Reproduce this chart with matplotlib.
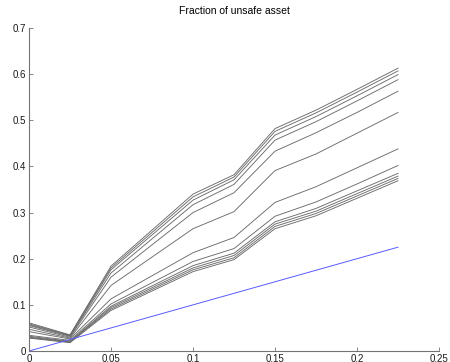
import matplotlib
matplotlib.use("Agg")
import matplotlib.pyplot as plt

plt.rcParams['font.family'] = ['Liberation Sans', 'DejaVu Sans']

# grid of risk levels
x = [0, 0.025, 0.05, 0.1, 0.125, 0.15, 0.175, 0.2, 0.225]

# fraction of unsafe asset, one series per parameter value
series = [
    [0.061, 0.035, 0.184, 0.340, 0.382, 0.482, 0.522, 0.567, 0.613],
    [0.059, 0.034, 0.180, 0.334, 0.377, 0.476, 0.516, 0.561, 0.607],
    [0.057, 0.033, 0.176, 0.327, 0.371, 0.468, 0.508, 0.553, 0.599],
    [0.055, 0.032, 0.169, 0.317, 0.361, 0.457, 0.497, 0.542, 0.588],
    [0.052, 0.030, 0.160, 0.300, 0.343, 0.433, 0.473, 0.517, 0.563],
    [0.047, 0.028, 0.142, 0.265, 0.302, 0.391, 0.427, 0.472, 0.517],
    [0.042, 0.026, 0.113, 0.213, 0.246, 0.322, 0.356, 0.397, 0.438],
    [0.034, 0.023, 0.102, 0.194, 0.222, 0.292, 0.323, 0.362, 0.402],
    [0.032, 0.021, 0.097, 0.185, 0.212, 0.280, 0.309, 0.347, 0.385],
    [0.030, 0.020, 0.094, 0.180, 0.207, 0.275, 0.303, 0.341, 0.379],
    [0.029, 0.019, 0.091, 0.176, 0.202, 0.270, 0.298, 0.336, 0.374],
    [0.028, 0.018, 0.088, 0.172, 0.198, 0.265, 0.293, 0.331, 0.369],
]

# safe benchmark: fraction equal to the risk level
bench_x = [0, 0.225]
bench_y = [0, 0.225]

xticks = [0, 0.05, 0.1, 0.15, 0.2, 0.25]
xticklabels = ["0", "0.05", "0.1", "0.15", "0.2", "0.25"]
yticks = [0, 0.1, 0.2, 0.3, 0.4, 0.5, 0.6, 0.7]
yticklabels = ["0", "0.1", "0.2", "0.3", "0.4", "0.5", "0.6", "0.7"]

fig = plt.figure(figsize=(4.5, 3.62), dpi=100)
ax = fig.add_axes([29 / 450, 1 - 351 / 362, 410 / 450, 323 / 362])

for s in series:
    ax.plot(x, s, color='0.42', lw=0.65)
ax.plot(bench_x, bench_y, color='#5a5aff', lw=0.7)

ax.set_xlim(0, 0.25)
ax.set_ylim(0, 0.7)
ax.set_xticks(xticks)
ax.set_xticklabels(xticklabels)
ax.set_yticks(yticks)
ax.set_yticklabels(yticklabels)

for side in ('top', 'right'):
    ax.spines[side].set_visible(False)
for side in ('left', 'bottom'):
    ax.spines[side].set_color('0.45')
    ax.spines[side].set_linewidth(0.8)

ax.tick_params(direction='in', length=3, width=0.6, color='0.45',
               labelsize=7, labelcolor='0.1', pad=2)

ax.set_title("Fraction of unsafe asset", fontsize=7.5, pad=10)

fig.savefig("out.png", dpi=100)
